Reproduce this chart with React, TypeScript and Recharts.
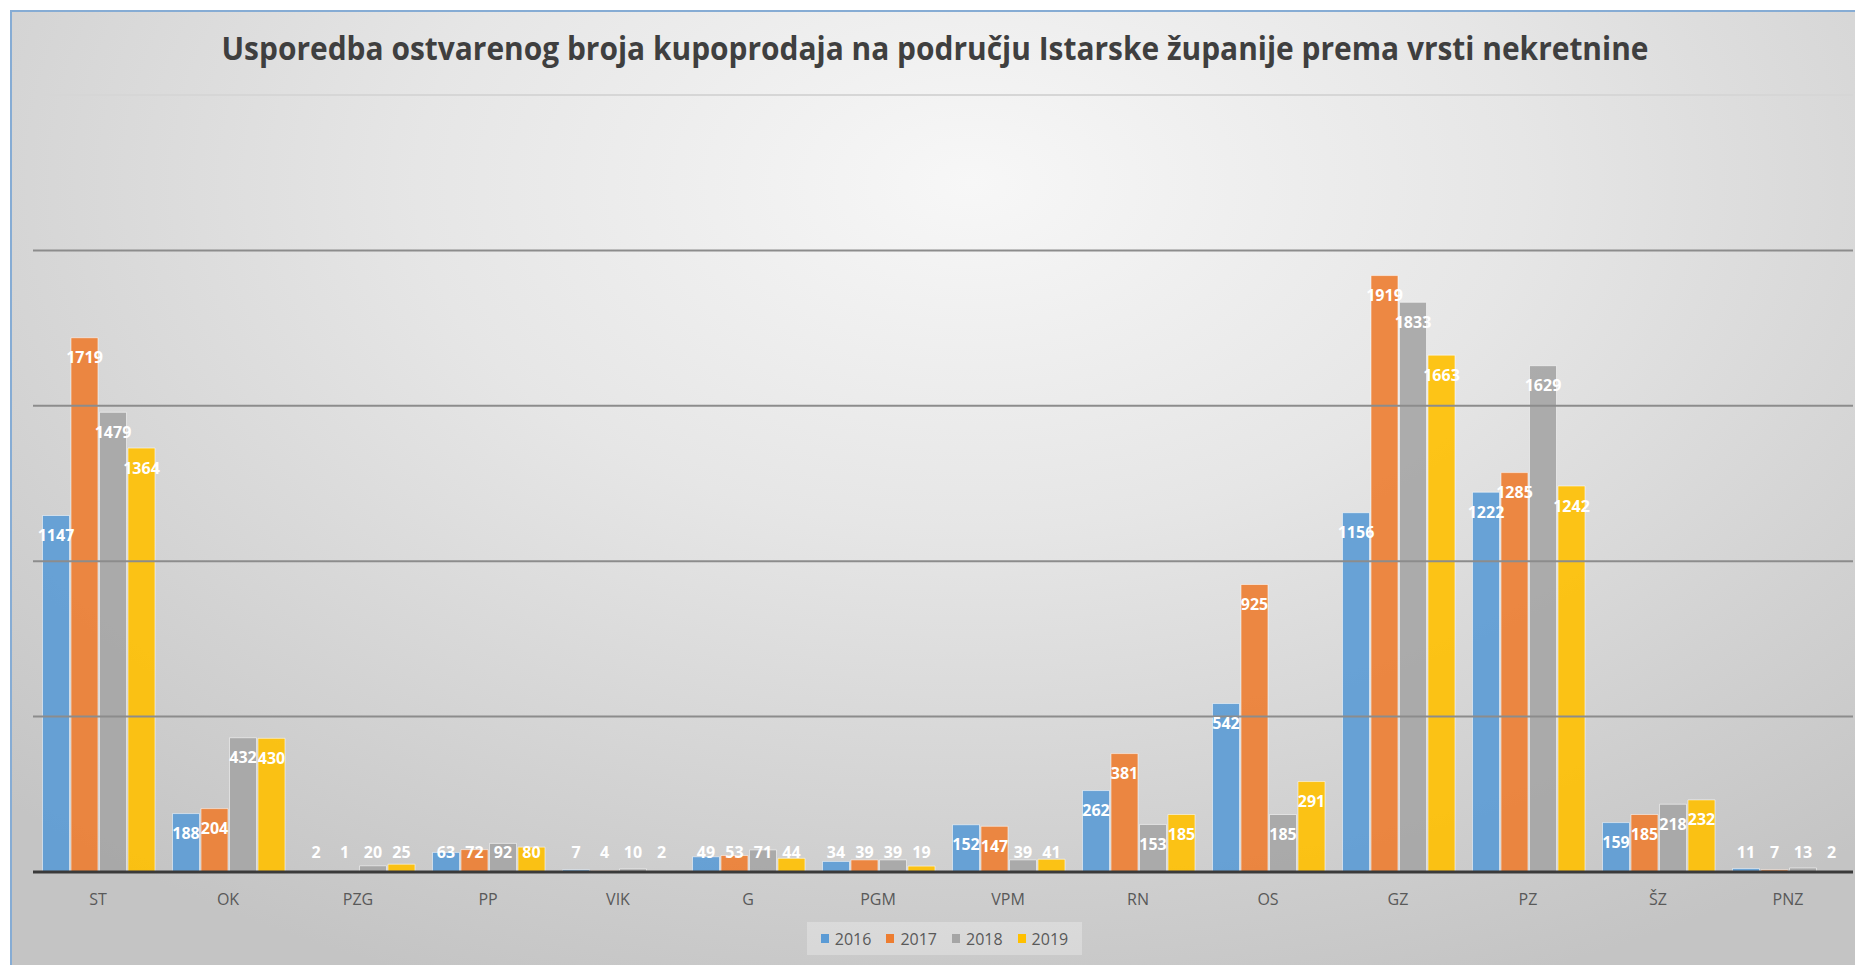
import React from 'react'
import { BarChart, Bar, XAxis, YAxis, ReferenceLine, LabelList } from 'recharts'

const categories = ['ST', 'OK', 'PZG', 'PP', 'VIK', 'G', 'PGM', 'VPM', 'RN', 'OS', 'GZ', 'PZ', 'ŠZ', 'PNZ']
const v2016 = [1147, 188, 2, 63, 7, 49, 34, 152, 262, 542, 1156, 1222, 159, 11]
const v2017 = [1719, 204, 1, 72, 4, 53, 39, 147, 381, 925, 1919, 1285, 185, 7]
const v2018 = [1479, 432, 20, 92, 10, 71, 39, 39, 153, 185, 1833, 1629, 218, 13]
const v2019 = [1364, 430, 25, 80, 2, 44, 19, 41, 185, 291, 1663, 1242, 232, 2]

const seriesNames = ['2016', '2017', '2018', '2019']
const seriesColors = ['#5B9BD5', '#ED7D31', '#A5A5A5', '#FFC000']
const gridValues = [500, 1000, 1500, 2000]
const topValue = 2500

const title = 'Usporedba ostvarenog broja kupoprodaja na području Istarske županije prema vrsti nekretnine'

const data = categories.map((c, i) => ({
  name: c,
  '2016': v2016[i],
  '2017': v2017[i],
  '2018': v2018[i],
  '2019': v2019[i],
}))

const font = '"Open Sans", "Noto Sans", sans-serif'

// Excel style "inside end" label: near the top of the bar, but never below baseline - 20
const renderLabel = (props: any) => {
  const { x, y, width, height, value } = props
  const cy = Math.min(y + 20, y + height - 20)
  return (
    <text
      x={x + width / 2}
      y={cy}
      dy="0.35em"
      textAnchor="middle"
      fill="#ffffff"
      fontSize={16}
      fontWeight={700}
      fontFamily={font}
    >
      {value}
    </text>
  )
}

const CategoryTick = (props: any) => {
  const { x, y, payload } = props
  return (
    <text x={x} y={y + 27} dy="0.35em" textAnchor="middle" fill="#595959" fontSize={16} fontFamily={font}>
      {payload.value}
    </text>
  )
}

const App: React.FC = () => {
  return (
    <div
      style={{
        position: 'relative',
        marginLeft: 2,
        marginTop: 2,
        width: 1848,
        height: 960,
        background: 'radial-gradient(ellipse 75% 90% at 52% 18%, #f7f7f7 0%, #e6e6e6 40%, #d2d2d2 75%, #c4c4c4 100%)',
        fontFamily: font,
      }}
    >
      <svg width={1848} height={80} style={{ position: 'absolute', left: 0, top: 0 }}>
        <text
          x={925}
          y={50}
          textAnchor="middle"
          fontSize={33}
          fontWeight={700}
          fill="#3f3f3f"
          fontFamily={font}
          textLength={1427}
          lengthAdjust="spacingAndGlyphs"
        >
          {title}
        </text>
      </svg>

      <div style={{ position: 'absolute', left: 0, top: 0 }}>
        <BarChart
          width={1848}
          height={960}
          data={data}
          margin={{ top: 85, right: 5, left: 23, bottom: 68 }}
          barCategoryGap="7.3%"
          barGap={1.5}
        >
          <YAxis hide domain={[0, topValue]} type="number" />
          <ReferenceLine y={topValue} stroke="#d6d6d6" strokeWidth={2} />
          {gridValues.map((g) => (
            <ReferenceLine key={g} y={g} stroke="#8c8c8c" strokeWidth={2} />
          ))}
          {seriesNames.map((s, i) => (
            <Bar
              key={s}
              dataKey={s}
              fill={seriesColors[i]}
              fillOpacity={0.9}
              stroke="rgba(255,255,255,0.55)"
              strokeWidth={1}
              isAnimationActive={false}
            >
              <LabelList dataKey={s} content={renderLabel} />
            </Bar>
          ))}
          <XAxis
            dataKey="name"
            height={30}
            axisLine={{ stroke: '#3a3a3a', strokeWidth: 3 }}
            tickLine={false}
            tickSize={0}
            tickMargin={0}
            interval={0}
            tick={<CategoryTick />}
          />
        </BarChart>
      </div>

      {/* legend */}
      <div
        style={{
          position: 'absolute',
          left: 797,
          top: 912,
          width: 275,
          height: 33,
          background: 'rgba(255,255,255,0.28)',
          display: 'flex',
          alignItems: 'center',
          justifyContent: 'center',
          gap: 15,
        }}
      >
        {seriesNames.map((s, i) => (
          <div key={s} style={{ display: 'flex', alignItems: 'center', gap: 6 }}>
            <span style={{ display: 'inline-block', width: 8, height: 9, background: seriesColors[i] }} />
            <span style={{ fontSize: 16, color: '#595959' }}>{s}</span>
          </div>
        ))}
      </div>

      <div
        style={{
          position: 'absolute',
          left: 0,
          top: 0,
          width: 1848,
          height: 960,
          boxSizing: 'border-box',
          border: '2px solid #86acd4',
          pointerEvents: 'none',
        }}
      />
    </div>
  )
}

export default App
